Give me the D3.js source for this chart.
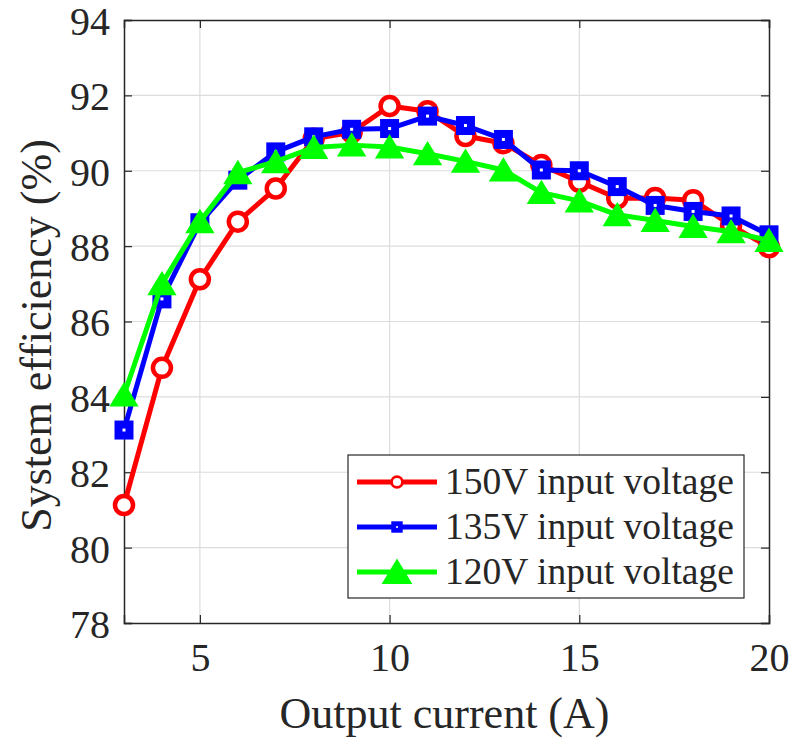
<!DOCTYPE html>
<html>
<head>
<meta charset="utf-8">
<script src="https://cdn.jsdelivr.net/npm/d3@7"></script>
<style>
  html, body { margin: 0; padding: 0; background: #fff; }
  svg { display: block; }
  text { font-family: "Liberation Serif", "Times New Roman", serif; fill: #262626; }
</style>
</head>
<body>
<div id="chart"></div>
<script>
// Output current (A)
const current = [3, 4, 5, 6, 7, 8, 9, 10, 11, 12, 13, 14, 15, 16, 17, 18, 19, 20];
// System efficiency (%) for each input voltage
const eff150 = [81.13, 84.77, 87.12, 88.65, 89.53, 90.85, 91.02, 91.72, 91.58, 90.92, 90.73, 90.15, 89.71, 89.27, 89.28, 89.22, 88.55, 87.97];
const eff135 = [83.12, 86.60, 88.62, 89.75, 90.50, 90.90, 91.10, 91.12, 91.45, 91.20, 90.83, 90.02, 90.00, 89.58, 89.08, 88.92, 88.80, 88.30];
const eff120 = [84.05, 87.00, 88.65, 89.95, 90.24, 90.62, 90.68, 90.63, 90.45, 90.25, 90.02, 89.42, 89.20, 88.83, 88.68, 88.52, 88.38, 88.15];
const seriesNames = ["150V input voltage", "135V input voltage", "120V input voltage"];
const seriesColors = ["#ff0000", "#0000ff", "#00ff00"];
const seriesMarkers = ["circle", "square", "triangle"];
const xTicks = [5, 10, 15, 20];
const yTicks = [78, 80, 82, 84, 86, 88, 90, 92, 94];

const W = 800, H = 738;
const m = { left: 124, right: 769, top: 20, bottom: 623 };

const svg = d3.select("#chart").append("svg").attr("width", W).attr("height", H);

const x = d3.scaleLinear().domain([3, 20]).range([m.left, m.right]);
const y = d3.scaleLinear().domain([78, 94]).range([m.bottom, m.top]);

// grid
const grid = svg.append("g");
grid.selectAll("line.gx").data(xTicks.filter(t => t < 20)).join("line")
  .attr("x1", d => x(d)).attr("x2", d => x(d))
  .attr("y1", m.top).attr("y2", m.bottom)
  .attr("stroke", "#dcdcdc").attr("stroke-width", 1.2);
grid.selectAll("line.gy").data(yTicks.filter(t => t > 78 && t < 94)).join("line")
  .attr("x1", m.left).attr("x2", m.right)
  .attr("y1", d => y(d)).attr("y2", d => y(d))
  .attr("stroke", "#dcdcdc").attr("stroke-width", 1.2);

// axes (ticks point inward, mirrored on top and right)
const tickLen = 8;
const axisColor = "#262626";
const bottomAxis = d3.axisBottom(x).tickValues(xTicks).tickSize(-tickLen).tickPadding(20).tickFormat(d3.format("d"));
const leftAxis = d3.axisLeft(y).tickValues(yTicks).tickSize(-tickLen).tickPadding(14).tickFormat(d3.format("d"));
const topAxis = d3.axisTop(x).tickValues(xTicks).tickSize(-tickLen).tickFormat("");
const rightAxis = d3.axisRight(y).tickValues(yTicks).tickSize(-tickLen).tickFormat("");

function styleAxis(g) {
  g.select(".domain").attr("stroke", axisColor).attr("stroke-width", 1.5);
  g.selectAll(".tick line").attr("stroke", axisColor).attr("stroke-width", 1.2);
  g.selectAll("text").attr("fill", axisColor).style("font-size", "40px")
    .style("font-family", "'Liberation Serif', 'Times New Roman', serif");
}

svg.append("g").attr("transform", `translate(0,${m.bottom})`).call(bottomAxis).call(styleAxis);
svg.append("g").attr("transform", `translate(${m.left},0)`).call(leftAxis).call(styleAxis)
  .selectAll(".tick text").attr("dy", "0.36em");
svg.append("g").attr("transform", `translate(0,${m.top})`).call(topAxis).call(styleAxis);
svg.append("g").attr("transform", `translate(${m.right},0)`).call(rightAxis).call(styleAxis);

// axis titles
svg.append("text")
  .attr("x", (m.left + m.right) / 2 - 2).attr("y", 728)
  .attr("text-anchor", "middle").style("font-size", "44px")
  .text("Output current (A)");
svg.append("text")
  .attr("transform", `translate(51,${(m.top + m.bottom) / 2 + 14}) rotate(-90)`)
  .attr("text-anchor", "middle").style("font-size", "44px")
  .text("System efficiency (%)");

// marker drawing
function drawMarker(sel, type, color, scale) {
  const s = scale || 1;
  if (type === "circle") {
    sel.append("circle").attr("r", 9 * s)
      .attr("fill", "#fff").attr("stroke", color).attr("stroke-width", 4.5 * s);
  } else if (type === "square") {
    const a = 11 * s;
    sel.append("rect").attr("x", -a / 2).attr("y", -a / 2).attr("width", a).attr("height", a)
      .attr("fill", "#fff").attr("stroke", color).attr("stroke-width", 8 * s);
  } else {
    const h = 20 * s, w = 24 * s;
    sel.append("path")
      .attr("d", `M0,${-h / 2}L${w / 2},${h / 2}L${-w / 2},${h / 2}Z`)
      .attr("fill", color).attr("stroke", color).attr("stroke-width", 3 * s)
      .attr("stroke-linejoin", "miter");
  }
}

const allSeries = [eff150, eff135, eff120];
const line = d3.line().x(d => x(d[0])).y(d => y(d[1]));

allSeries.forEach((vals, i) => {
  const pts = current.map((c, k) => [c, vals[k]]);
  const g = svg.append("g");
  g.append("path").datum(pts).attr("d", line)
    .attr("fill", "none").attr("stroke", seriesColors[i])
    .attr("stroke-width", 5).attr("stroke-linejoin", "round");
  g.selectAll("g.mk").data(pts).join("g")
    .attr("transform", d => `translate(${x(d[0])},${y(d[1])})`)
    .each(function () { drawMarker(d3.select(this), seriesMarkers[i], seriesColors[i], 1); });
});

// legend
const lg = svg.append("g");
lg.append("rect").attr("x", 348).attr("y", 455).attr("width", 396).attr("height", 143)
  .attr("fill", "#fff").attr("stroke", axisColor).attr("stroke-width", 1.2);
seriesNames.forEach((name, i) => {
  const cy = 482 + i * 45;
  lg.append("line").attr("x1", 357).attr("x2", 437).attr("y1", cy).attr("y2", cy)
    .attr("stroke", seriesColors[i]).attr("stroke-width", 5);
  const mk = lg.append("g").attr("transform", `translate(397,${cy})`);
  drawMarker(mk, seriesMarkers[i], seriesColors[i], i === 2 ? 1.05 : 0.6);
  lg.append("text").attr("x", 445).attr("y", cy + 12)
    .style("font-size", "37.5px").text(name);
});
</script>
</body>
</html>
